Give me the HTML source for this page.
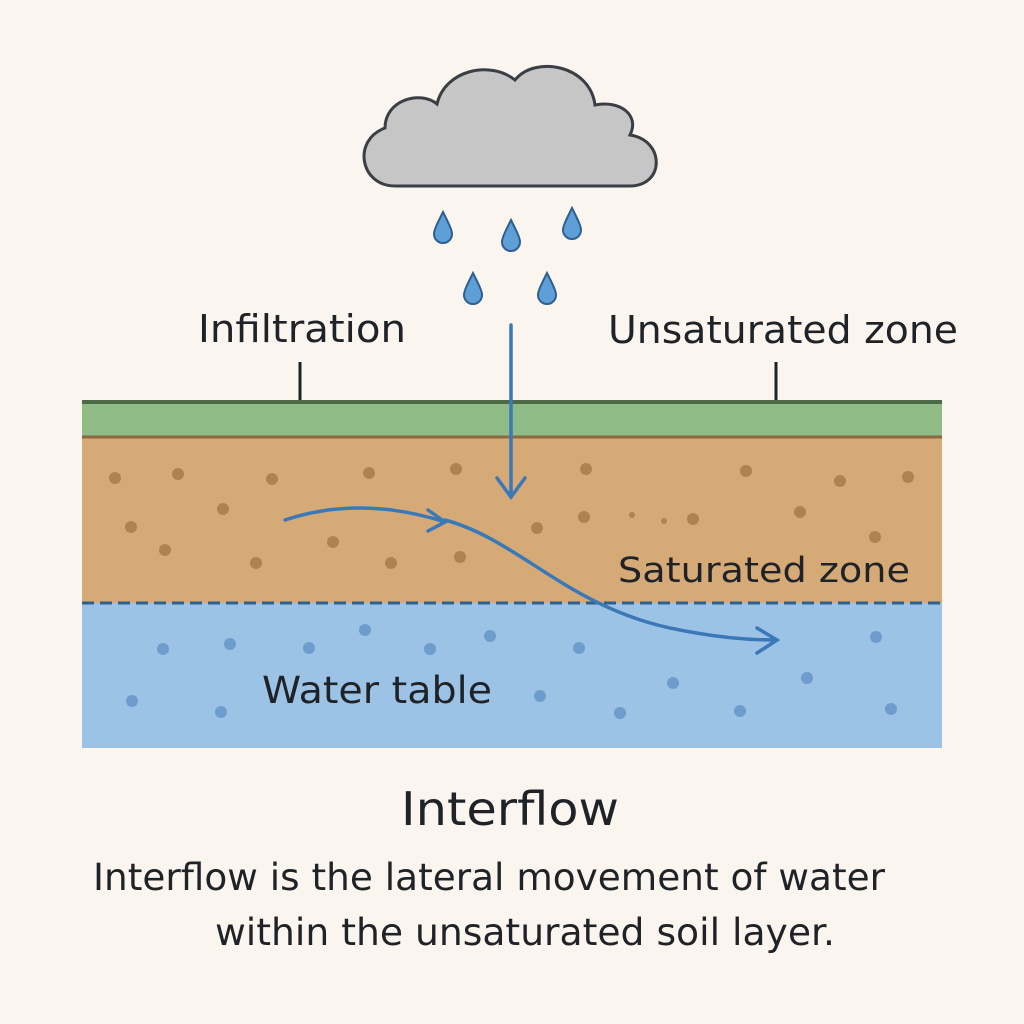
<!DOCTYPE html>
<html><head><meta charset="utf-8"><style>
html,body{margin:0;padding:0;background:#faf6ef;}
svg{display:block;font-family:"DejaVu Sans","Liberation Sans",sans-serif;}
</style></head><body>
<svg width="1024" height="1024" viewBox="0 0 1024 1024">
<rect x="0" y="0" width="1024" height="1024" fill="#faf6ef"/>
<g>
<path d="M395,186 C360,186 352,140 385,128 C385,100 420,90 437,104 C445,70 490,60 515,80 C535,55 590,65 595,105 C620,100 640,115 630,135 C665,140 665,186 630,186 Z" fill="#c6c6c6" stroke="#3a3f45" stroke-width="3"/>
</g>
<g fill="#5f9fd8" stroke="#2f5f8f" stroke-width="2">
<path d="M443,212 C437,224 434,230 434,234 A9,9 0 0 0 452,234 C452,230 449,224 443,212Z"/>
<path d="M511,220 C505,232 502,238 502,242 A9,9 0 0 0 520,242 C520,238 517,232 511,220Z"/>
<path d="M572,208 C566,220 563,226 563,230 A9,9 0 0 0 581,230 C581,226 578,220 572,208Z"/>
<path d="M473,273 C467,285 464,291 464,295 A9,9 0 0 0 482,295 C482,291 479,285 473,273Z"/>
<path d="M547,273 C541,285 538,291 538,295 A9,9 0 0 0 556,295 C556,291 553,285 547,273Z"/>
</g>
<text x="198" y="342" font-size="38" fill="#1f2328" textLength="208" lengthAdjust="spacingAndGlyphs">Infiltration</text>
<text x="608" y="343" font-size="38" fill="#1f2328" textLength="350" lengthAdjust="spacingAndGlyphs">Unsaturated zone</text>
<line x1="300" y1="362" x2="300" y2="422" stroke="#1f2328" stroke-width="3"/>
<line x1="776" y1="362" x2="776" y2="402" stroke="#1f2328" stroke-width="3"/>
<rect x="82" y="603" width="860" height="145" fill="#9cc3e6"/>
<rect x="82" y="437" width="860" height="166" fill="#d5aa76"/>
<rect x="82" y="400" width="860" height="37" fill="#8fbb86"/>
<line x1="82" y1="402" x2="942" y2="402" stroke="#4b6a45" stroke-width="4"/>
<line x1="82" y1="437" x2="942" y2="437" stroke="#8a6a3e" stroke-width="3"/>
<g fill="#ad8450">
<circle cx="115" cy="478" r="6"/><circle cx="178" cy="474" r="6"/><circle cx="272" cy="479" r="6"/><circle cx="369" cy="473" r="6"/><circle cx="456" cy="469" r="6"/><circle cx="586" cy="469" r="6"/><circle cx="746" cy="471" r="6"/><circle cx="840" cy="481" r="6"/><circle cx="908" cy="477" r="6"/><circle cx="223" cy="509" r="6"/><circle cx="131" cy="527" r="6"/><circle cx="333" cy="542" r="6"/><circle cx="165" cy="550" r="6"/><circle cx="256" cy="563" r="6"/><circle cx="391" cy="563" r="6"/><circle cx="460" cy="557" r="6"/><circle cx="537" cy="528" r="6"/><circle cx="584" cy="517" r="6"/><circle cx="693" cy="519" r="6"/><circle cx="800" cy="512" r="6"/><circle cx="875" cy="537" r="6"/><circle cx="632" cy="515" r="3"/><circle cx="664" cy="521" r="3"/>
</g>
<g fill="#6e9ccc">
<circle cx="163" cy="649" r="6"/><circle cx="230" cy="644" r="6"/><circle cx="309" cy="648" r="6"/><circle cx="365" cy="630" r="6"/><circle cx="430" cy="649" r="6"/><circle cx="490" cy="636" r="6"/><circle cx="579" cy="648" r="6"/><circle cx="876" cy="637" r="6"/><circle cx="132" cy="701" r="6"/><circle cx="221" cy="712" r="6"/><circle cx="540" cy="696" r="6"/><circle cx="620" cy="713" r="6"/><circle cx="673" cy="683" r="6"/><circle cx="740" cy="711" r="6"/><circle cx="807" cy="678" r="6"/><circle cx="891" cy="709" r="6"/>
</g>
<line x1="82" y1="603" x2="942" y2="603" stroke="#2f5f8f" stroke-width="3" stroke-dasharray="12,6"/>
<g stroke="#3a78b8" stroke-width="3.5" fill="none" stroke-linecap="round">
<line x1="511" y1="325" x2="511" y2="497"/>
<polyline points="497,478 511,497 525,478"/>
<path d="M285,520 Q360,495 445,522"/>
<polyline points="428,510 445,522 428,531"/>
<path d="M445,520 C520,540 570,610 680,630 C720,638 750,640 775,640"/>
<polyline points="757,628 777,640 757,653"/>
</g>
<text x="618" y="582" font-size="35" fill="#1f2328" textLength="292" lengthAdjust="spacingAndGlyphs">Saturated zone</text>
<text x="262" y="703" font-size="37" fill="#1f2328" textLength="230" lengthAdjust="spacingAndGlyphs">Water table</text>
<text x="401" y="825" font-size="46" fill="#1f2328" textLength="218" lengthAdjust="spacingAndGlyphs">Interflow</text>
<text x="93" y="890" font-size="37" fill="#1f2328" textLength="792" lengthAdjust="spacingAndGlyphs">Interflow is the lateral movement of water</text>
<text x="215" y="945" font-size="37" fill="#1f2328" textLength="620" lengthAdjust="spacingAndGlyphs">within the unsaturated soil layer.</text>
</svg>
</body></html>
